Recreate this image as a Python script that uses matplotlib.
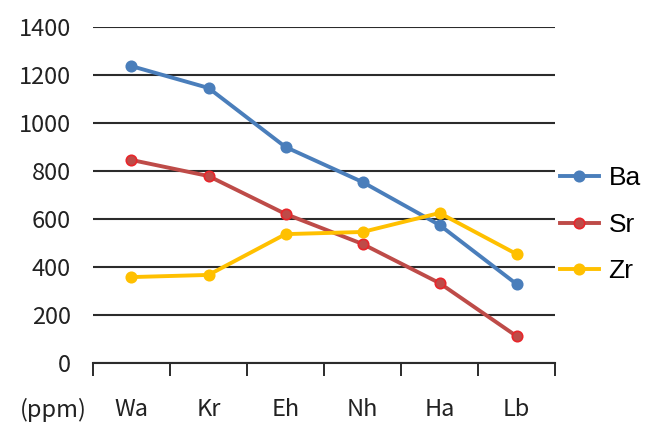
import numpy as np
import matplotlib.pyplot as plt
from matplotlib.lines import Line2D

sites = ["Wa", "Kr", "Eh", "Nh", "Ha", "Lb"]
ba = [1237, 1146, 900, 754, 575, 329]
sr = [846, 779, 621, 496, 333, 112]
zr = [358, 367, 537, 546, 625, 454]
yticks = [0, 200, 400, 600, 800, 1000, 1200, 1400]

tick_font = ["Noto Sans CJK KR", "DejaVu Sans"]

fig = plt.figure(figsize=(6.53, 4.22), dpi=100)
ax = fig.add_axes([0.1424, 0.1398, 0.7076, 0.7962])

x = np.arange(len(sites))
series = [
    ("Ba", ba, "#4a7ebb", "#4a7ebb"),
    ("Sr", sr, "#be4b48", "#e8262b"),
    ("Zr", zr, "#ffc000", "#ffc000"),
]
handles = []
for name, vals, col, edge in series:
    ax.plot(x, vals, color=col, lw=2.8, marker="o", ms=7.5,
            mfc=col, mec=edge, mew=1.2, zorder=3)
    handles.append(Line2D([], [], color=col, lw=2.8, marker="o", ms=7.5,
                          mfc=col, mec=edge, mew=1.2))

ax.set_xlim(-0.5, len(sites) - 0.5)
ax.set_ylim(0, 1400)
ax.set_yticks(yticks)
ax.set_yticklabels([str(v) for v in yticks], fontfamily=tick_font, fontsize=17)
ax.yaxis.grid(True, color="#2b2b2b", lw=1.5)
ax.set_axisbelow(True)
ax.tick_params(axis="y", length=0, pad=16, labelcolor="#222222")

ax.set_xticks(x)
ax.set_xticklabels(sites, fontfamily=tick_font, fontsize=17)
ax.tick_params(axis="x", which="major", length=0, pad=25, labelcolor="#222222")
ax.set_xticks(np.arange(-0.5, len(sites)), minor=True)
ax.tick_params(axis="x", which="minor", length=9, width=1.4, color="#2b2b2b")

for s in ["top", "right", "left"]:
    ax.spines[s].set_visible(False)
ax.spines["bottom"].set_color("#2b2b2b")
ax.spines["bottom"].set_linewidth(1.5)

fig.text(0.081, 0.028, "(ppm)", fontfamily=tick_font, fontsize=17,
         color="#222222", ha="center", va="center")

leg = fig.legend(handles, [s[0] for s in series], loc="center left",
                 bbox_to_anchor=(0.857, 0.467), frameon=False,
                 prop={"family": "Liberation Sans", "size": 19},
                 handlelength=1.5, labelspacing=0.85, handletextpad=0.35,
                 borderpad=0, borderaxespad=0)

fig.savefig("out.png", dpi=100)
